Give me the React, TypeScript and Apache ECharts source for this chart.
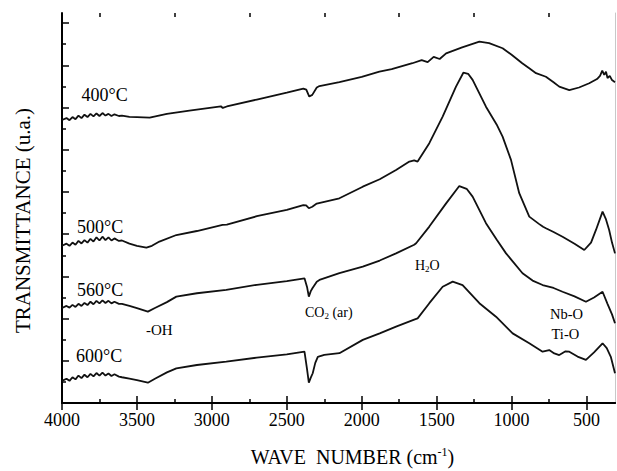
import React, { useEffect, useRef } from "react";
import * as echarts from "echarts";

// Wavenumbers (cm-1) and transmittance (arbitrary units)
const w400 = [4000, 3970, 3950, 3930, 3910, 3890, 3870, 3850, 3830, 3810, 3790, 3770, 3750, 3730, 3710, 3690, 3670, 3650, 3620, 3600, 3550, 3500, 3415, 3300, 3150, 2940, 2927, 2900, 2700, 2500, 2390, 2370, 2350, 2330, 2300, 2282, 2149, 2000, 1882, 1800, 1662, 1600, 1560, 1520, 1480, 1437, 1330, 1215, 1150, 1060, 1000, 929, 880, 837, 771, 720, 682, 615, 550, 482, 430, 410, 395, 382, 370, 360, 345, 330, 310];
const t400 = [13.41, 13.5, 13.4, 13.55, 13.45, 13.62, 13.5, 13.66, 13.55, 13.7, 13.58, 13.72, 13.6, 13.74, 13.62, 13.7, 13.6, 13.68, 13.6, 13.62, 13.56, 13.55, 13.52, 13.7, 13.85, 14.06, 13.98, 14.05, 14.38, 14.71, 14.9, 14.85, 14.52, 14.6, 14.95, 15.02, 15.21, 15.45, 15.7, 15.82, 16.1, 16.25, 16.15, 16.4, 16.3, 16.57, 16.85, 17.12, 17.05, 16.81, 16.5, 16.1, 15.85, 15.63, 15.46, 15.2, 14.99, 14.83, 14.95, 15.15, 15.35, 15.5, 15.75, 15.55, 15.7, 15.4, 15.5, 15.3, 15.2];

const w500 = [4000, 3970, 3950, 3930, 3910, 3890, 3870, 3850, 3830, 3810, 3790, 3770, 3750, 3730, 3710, 3690, 3670, 3650, 3620, 3600, 3550, 3500, 3437, 3400, 3350, 3237, 3100, 2929, 2900, 2700, 2500, 2390, 2371, 2353, 2330, 2300, 2149, 1993, 1880, 1771, 1682, 1650, 1627, 1549, 1460, 1371, 1322, 1290, 1260, 1171, 1100, 1060, 1004, 949, 882, 820, 790, 771, 720, 660, 580, 515, 470, 437, 393, 370, 349, 330, 310];
const t500 = [7.45, 7.55, 7.45, 7.6, 7.5, 7.68, 7.56, 7.72, 7.6, 7.78, 7.65, 7.85, 7.7, 7.88, 7.72, 7.85, 7.7, 7.8, 7.68, 7.7, 7.55, 7.45, 7.36, 7.45, 7.65, 7.96, 8.15, 8.44, 8.45, 8.85, 9.15, 9.38, 9.36, 9.23, 9.3, 9.45, 9.7, 10.25, 10.6, 11.04, 11.44, 11.5, 11.44, 12.31, 13.57, 14.99, 15.65, 15.6, 15.31, 14.04, 13.2, 12.62, 11.52, 9.94, 8.83, 8.5, 8.35, 8.28, 8.1, 7.88, 7.55, 7.25, 7.6, 8.2, 9.07, 8.7, 8.2, 7.6, 7.09];

const w560 = [4000, 3970, 3950, 3930, 3910, 3890, 3870, 3850, 3830, 3810, 3790, 3770, 3750, 3730, 3710, 3690, 3670, 3650, 3620, 3600, 3550, 3500, 3427, 3380, 3300, 3237, 3100, 2904, 2700, 2500, 2382, 2365, 2353, 2340, 2329, 2300, 2282, 2149, 1993, 1880, 1771, 1650, 1637, 1549, 1437, 1349, 1300, 1260, 1171, 1100, 1037, 927, 860, 793, 720, 660, 580, 504, 450, 393, 360, 330, 310];
const t560 = [4.5, 4.6, 4.52, 4.65, 4.55, 4.7, 4.6, 4.74, 4.64, 4.8, 4.68, 4.84, 4.72, 4.86, 4.74, 4.84, 4.72, 4.8, 4.7, 4.7, 4.6, 4.5, 4.33, 4.5, 4.78, 5.04, 5.2, 5.36, 5.6, 5.78, 5.91, 5.5, 5.04, 5.3, 5.44, 5.75, 5.83, 6.15, 6.46, 6.75, 7.09, 7.5, 7.57, 8.36, 9.46, 10.28, 10.15, 9.78, 8.52, 7.75, 7.09, 6.15, 5.8, 5.59, 5.45, 5.27, 5.05, 4.8, 5.0, 5.27, 4.7, 4.2, 3.78];

const w600 = [4000, 3970, 3950, 3930, 3910, 3890, 3870, 3850, 3830, 3810, 3790, 3770, 3750, 3730, 3710, 3690, 3670, 3650, 3620, 3600, 3550, 3500, 3427, 3380, 3300, 3237, 3100, 2904, 2700, 2500, 2382, 2365, 2353, 2340, 2327, 2310, 2293, 2250, 2149, 1993, 1880, 1771, 1650, 1627, 1549, 1460, 1393, 1327, 1215, 1104, 993, 882, 793, 749, 715, 682, 640, 615, 560, 504, 450, 393, 365, 338, 310];
const t600 = [1.05, 1.15, 1.05, 1.22, 1.12, 1.3, 1.18, 1.34, 1.22, 1.38, 1.26, 1.42, 1.3, 1.44, 1.3, 1.4, 1.28, 1.36, 1.25, 1.22, 1.15, 1.08, 0.96, 1.15, 1.45, 1.64, 1.8, 1.96, 2.15, 2.3, 2.43, 1.6, 0.96, 1.2, 1.41, 1.9, 2.19, 2.28, 2.36, 2.99, 3.3, 3.62, 3.95, 4.01, 4.73, 5.51, 5.75, 5.59, 4.73, 4.09, 3.3, 2.83, 2.43, 2.51, 2.35, 2.27, 2.45, 2.43, 2.2, 2.04, 2.4, 2.83, 2.6, 2.19, 1.41];

const xMajorTicks = [4000, 3500, 3000, 2500, 2000, 1500, 1000, 500];
const xMinorTicks = [3750, 3250, 2750, 2250, 1750, 1250, 750];
const yMajorTicks = [0, 2, 4, 6, 8, 10, 12, 14, 16, 18];
const yMinorTicks = [1, 3, 5, 7, 9, 11, 13, 15, 17];

const FONT = "'Liberation Serif', 'Times New Roman', serif";
const X_MIN = 310;
const X_MAX = 4000;
const Y_MIN = 0;
const Y_MAX = 18.48;

const zip = (w: number[], t: number[]) => w.map((v, i) => [v, t[i]]);

export default function App() {
  const ref = useRef<HTMLDivElement>(null);

  useEffect(() => {
    document.body.style.margin = "0";
    if (!ref.current) return;
    const chart = echarts.init(ref.current, undefined, { renderer: "svg" });

    const baseX = {
      type: "value" as const,
      inverse: true,
      min: X_MIN,
      max: X_MAX,
      splitLine: { show: false },
    };
    const baseY = {
      type: "value" as const,
      min: Y_MIN,
      max: Y_MAX,
      splitLine: { show: false },
      axisLabel: { show: false },
    };

    const seriesDefs = [
      { name: "400°C", data: zip(w400, t400) },
      { name: "500°C", data: zip(w500, t500) },
      { name: "560°C", data: zip(w560, t560) },
      { name: "600°C", data: zip(w600, t600) },
    ];

    const txt = (text: string, x: number, y: number, size: number, extra: any = {}) => ({
      type: "text",
      x,
      y,
      silent: true,
      style: {
        text,
        fill: "#000",
        font: `${size}px ${FONT}`,
        textAlign: "left",
        textVerticalAlign: "middle",
        ...extra,
      },
    });

    chart.setOption({
      animation: false,
      backgroundColor: "#fff",
      grid: { left: 62, right: 2, top: 13, bottom: 68, containLabel: false },
      xAxis: [
        {
          ...baseX,
          position: "bottom",
          axisLine: { show: true, lineStyle: { color: "#000", width: 2 } },
          axisTick: { show: true, inside: true, length: 7, customValues: xMajorTicks, lineStyle: { color: "#000", width: 1.5 } },
          axisLabel: {
            show: true,
            customValues: xMajorTicks,
            margin: 8,
            color: "#000",
            fontSize: 18,
            fontFamily: FONT,
            formatter: (v: number) => String(v),
          },
        },
        {
          ...baseX,
          position: "bottom",
          axisLine: { show: false },
          axisTick: { show: true, inside: true, length: 4, customValues: xMinorTicks, lineStyle: { color: "#000", width: 1.5 } },
          axisLabel: { show: false },
        },
        {
          ...baseX,
          position: "top",
          axisLine: { show: true, lineStyle: { color: "#000", width: 2 } },
          axisTick: { show: true, inside: true, length: 7, customValues: xMajorTicks, lineStyle: { color: "#000", width: 1.5 } },
          axisLabel: { show: false },
        },
        {
          ...baseX,
          position: "top",
          axisLine: { show: false },
          axisTick: { show: true, inside: true, length: 4, customValues: xMinorTicks, lineStyle: { color: "#000", width: 1.5 } },
          axisLabel: { show: false },
        },
      ],
      yAxis: [
        {
          ...baseY,
          position: "left",
          axisLine: { show: true, lineStyle: { color: "#000", width: 2 } },
          axisTick: { show: true, inside: true, length: 7, customValues: yMajorTicks, lineStyle: { color: "#000", width: 1.5 } },
        },
        {
          ...baseY,
          position: "left",
          axisLine: { show: false },
          axisTick: { show: true, inside: true, length: 4, customValues: yMinorTicks, lineStyle: { color: "#000", width: 1.5 } },
        },
        {
          ...baseY,
          position: "right",
          axisLine: { show: true, lineStyle: { color: "#c8c8c8", width: 1 } },
          axisTick: { show: false },
        },
      ],
      series: seriesDefs.map((s) => ({
        type: "line",
        name: s.name,
        xAxisIndex: 0,
        yAxisIndex: 0,
        data: s.data,
        showSymbol: false,
        symbol: "none",
        smooth: false,
        clip: true,
        lineStyle: { color: "#111", width: 1.8 },
      })),
      graphic: [
        txt("400°C", 81.5, 95, 18),
        txt("500°C", 77, 226.5, 18),
        txt("560°C", 77, 289.5, 18),
        txt("600°C", 76, 355.5, 18),
        txt("-OH", 146, 330, 15),
        {
          type: "text",
          x: 305,
          y: 312.5,
          silent: true,
          style: {
            text: "{a|CO}{s|2}{a| (ar)}",
            textAlign: "left",
            textVerticalAlign: "middle",
            rich: {
              a: { fontSize: 14, fontFamily: FONT, fill: "#000", lineHeight: 16, color: "#000" },
              s: { fontSize: 9, fontFamily: FONT, fill: "#000", lineHeight: 9, verticalAlign: "bottom", color: "#000" },
            },
          },
        },
        {
          type: "text",
          x: 415,
          y: 265,
          silent: true,
          style: {
            text: "{a|H}{s|2}{a|O}",
            textAlign: "left",
            textVerticalAlign: "middle",
            rich: {
              a: { fontSize: 14, fontFamily: FONT, fill: "#000", lineHeight: 16, color: "#000" },
              s: { fontSize: 9, fontFamily: FONT, fill: "#000", lineHeight: 9, verticalAlign: "bottom", color: "#000" },
            },
          },
        },
        txt("Nb-O", 550, 314, 14.5),
        txt("Ti-O", 551.5, 334, 14.5),
        {
          type: "text",
          x: 22.5,
          y: 220.5,
          rotation: Math.PI / 2,
          silent: true,
          style: {
            text: "TRANSMITTANCE (u.a.)",
            fill: "#000",
            font: `21px ${FONT}`,
            textAlign: "center",
            textVerticalAlign: "middle",
          },
        },
        {
          type: "text",
          x: 352.5,
          y: 457,
          silent: true,
          style: {
            text: "{a|WAVE  NUMBER (cm}{u|-1}{a|)}",
            textAlign: "center",
            textVerticalAlign: "middle",
            rich: {
              a: { fontSize: 20, fontFamily: FONT, fill: "#000", lineHeight: 22, color: "#000" },
              u: { fontSize: 12, fontFamily: FONT, fill: "#000", lineHeight: 12, verticalAlign: "top", color: "#000" },
            },
          },
        },
      ],
    });

    return () => chart.dispose();
  }, []);

  return <div ref={ref} style={{ width: 617, height: 471 }} />;
}
